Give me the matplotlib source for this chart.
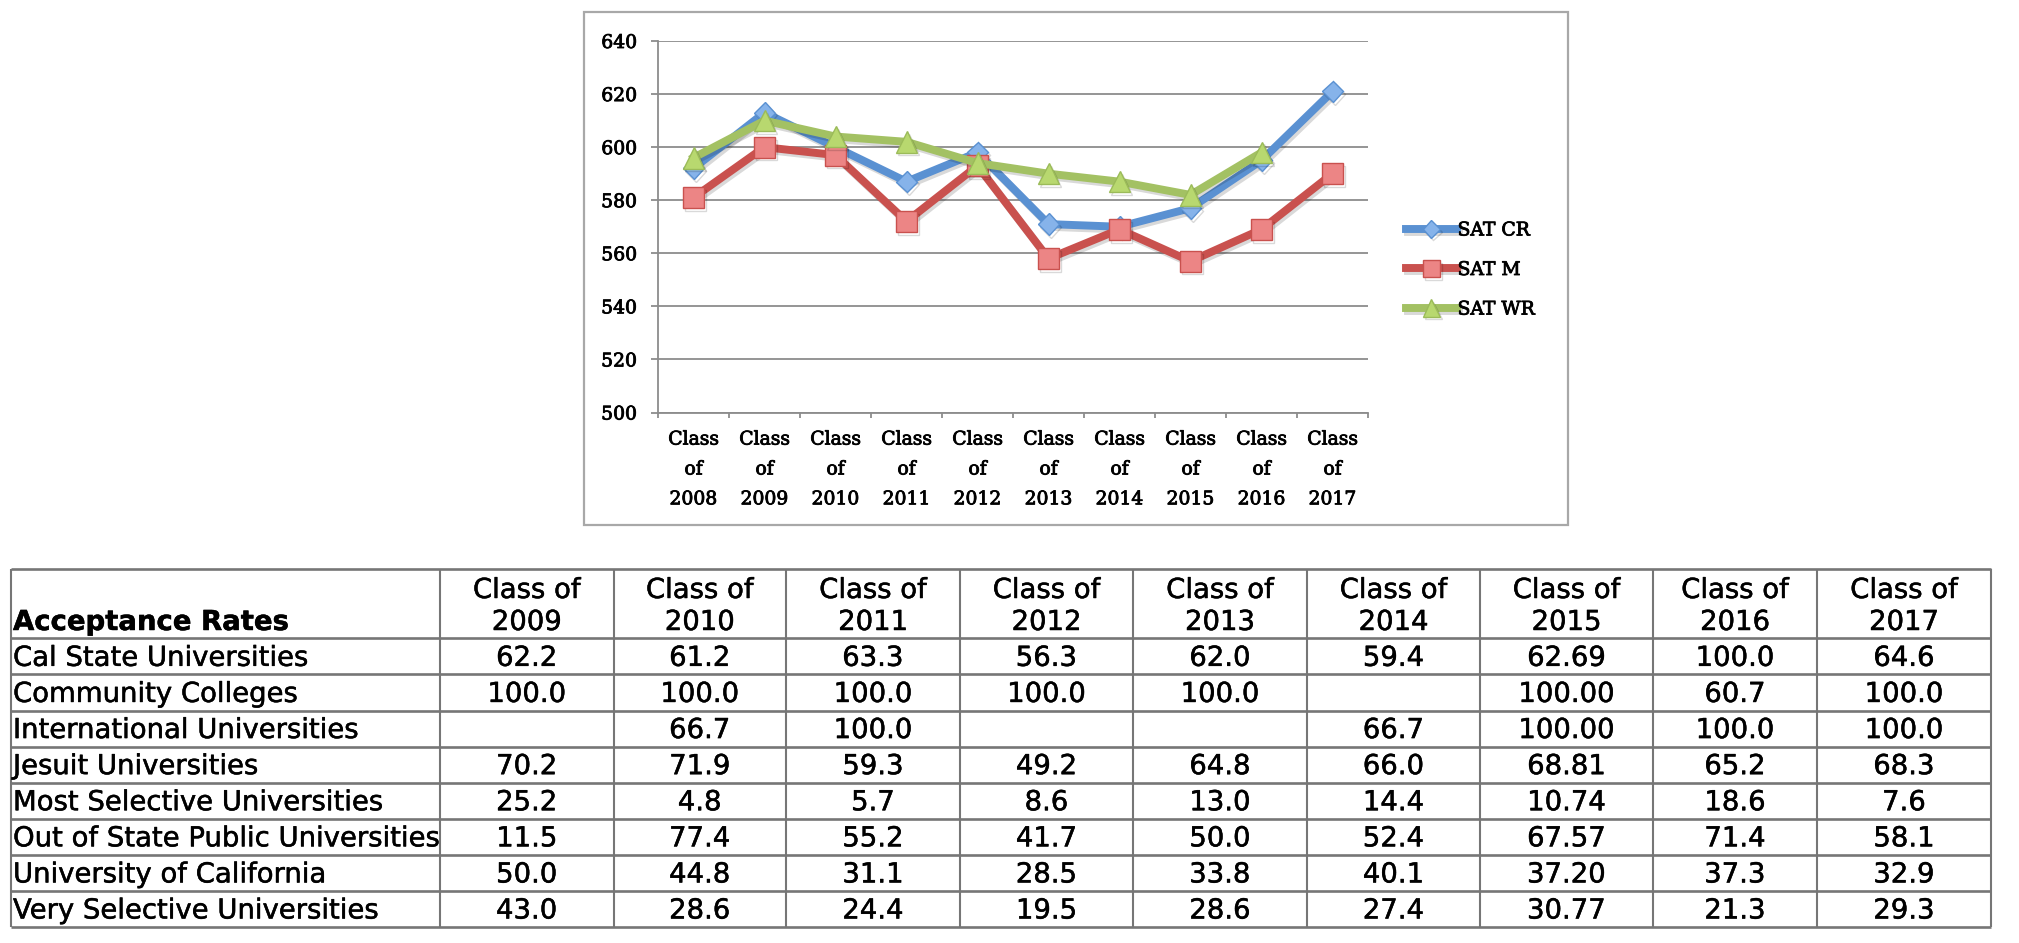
import matplotlib
matplotlib.use("Agg")
import matplotlib.pyplot as plt
import matplotlib.patheffects as pe
from matplotlib.patches import Rectangle
import numpy as np

W, H = 2019, 943

# ---- SAT chart data ----
classes = ["Class\nof\n2008", "Class\nof\n2009", "Class\nof\n2010", "Class\nof\n2011",
           "Class\nof\n2012", "Class\nof\n2013", "Class\nof\n2014", "Class\nof\n2015",
           "Class\nof\n2016", "Class\nof\n2017"]
sat_cr = [592, 613, 600, 587, 598, 571, 570, 577, 595, 621]
sat_m = [581, 600, 597, 572, 593, 558, 569, 557, 569, 590]
sat_wr = [596, 610, 604, 602, 594, 590, 587, 582, 598]   # no 2017 value

# ---- acceptance table data ----
years = [2009, 2010, 2011, 2012, 2013, 2014, 2015, 2016, 2017]
decimals = [1, 1, 1, 1, 1, 1, 2, 1, 1]
row_names = ["Cal State Universities", "Community Colleges", "International Universities",
             "Jesuit Universities", "Most Selective Universities",
             "Out of State Public Universities", "University of California",
             "Very Selective Universities"]
cal_state = [62.2, 61.2, 63.3, 56.3, 62.0, 59.4, 62.69, 100.0, 64.6]
community = [100.0, 100.0, 100.0, 100.0, 100.0, None, 100.00, 60.7, 100.0]
international = [None, 66.7, 100.0, None, None, 66.7, 100.00, 100.0, 100.0]
jesuit = [70.2, 71.9, 59.3, 49.2, 64.8, 66.0, 68.81, 65.2, 68.3]
most_selective = [25.2, 4.8, 5.7, 8.6, 13.0, 14.4, 10.74, 18.6, 7.6]
out_of_state = [11.5, 77.4, 55.2, 41.7, 50.0, 52.4, 67.57, 71.4, 58.1]
univ_california = [50.0, 44.8, 31.1, 28.5, 33.8, 40.1, 37.20, 37.3, 32.9]
very_selective = [43.0, 28.6, 24.4, 19.5, 28.6, 27.4, 30.77, 21.3, 29.3]
table_rows = [cal_state, community, international, jesuit, most_selective,
              out_of_state, univ_california, very_selective]

fig = plt.figure(figsize=(W / 100, H / 100), dpi=100)

# full-figure overlay in pixel coords for the table and the chart frame
tab = fig.add_axes([0, 0, 1, 1])
tab.set_xlim(0, W)
tab.set_ylim(H, 0)
tab.axis("off")

tab.add_patch(Rectangle((584, 12), 984, 513, fill=False, ec="#A8A8A8", lw=1.6))

col_edges = [11, 440, 613.5, 786, 960, 1133, 1307, 1480, 1653, 1817, 1991]
row_edges = [569, 638.3, 674.4, 710.5, 746.6, 782.7, 818.8, 854.9, 891.0, 927.0]
line_col = "#767676"
for y in row_edges:
    tab.plot([col_edges[0], col_edges[-1]], [y, y], color=line_col, lw=1.9,
             solid_capstyle="butt")
for x in col_edges:
    tab.plot([x, x], [row_edges[0], row_edges[-1]], color=line_col, lw=1.5,
             solid_capstyle="butt")

heavy_t = [pe.withStroke(linewidth=0.35, foreground="black")]
tfont = dict(family="DejaVu Sans", size=19.8, color="black", path_effects=heavy_t)
tab.text(13, 622, "Acceptance Rates", ha="left", va="center", fontweight="bold", **tfont)
for j, yr in enumerate(years):
    cx = (col_edges[j + 1] + col_edges[j + 2]) / 2
    tab.text(cx, 590, "Class of", ha="center", va="center", **tfont)
    tab.text(cx, 622, str(yr), ha="center", va="center", **tfont)

for i, (name, vals) in enumerate(zip(row_names, table_rows)):
    cy = (row_edges[i + 1] + row_edges[i + 2]) / 2 + 1.5
    tab.text(13, cy, name, ha="left", va="center", **tfont)
    for j, v in enumerate(vals):
        if v is None:
            continue
        cx = (col_edges[j + 1] + col_edges[j + 2]) / 2
        tab.text(cx, cy, f"{v:.{decimals[j]}f}", ha="center", va="center", **tfont)

# ---- line chart ----
ax = fig.add_axes([658 / W, 1 - 412.5 / H, 710 / W, 371.5 / H])
ax.patch.set_alpha(0)
x = np.arange(len(classes))
shadow = [pe.SimpleLineShadow(offset=(1.5, -2), shadow_color="k", alpha=0.15), pe.Normal()]

ax.plot(x, sat_cr, color="#5A91D2", lw=5.7, marker="D", ms=11, mfc="#86B3EA",
        mec="#5A91D2", mew=1, label="SAT CR", path_effects=shadow)
ax.plot(x, sat_m, color="#C9514E", lw=5.7, marker="s", ms=15, mfc="#EC8585",
        mec="#C9514E", mew=1, label="SAT M", path_effects=shadow)
ax.plot(x[:len(sat_wr)], sat_wr, color="#A3C163", lw=5.7, marker="^", ms=15.5, mfc="#B8D86F",
        mec="#9BBB59", mew=1, label="SAT WR", path_effects=shadow)

heavy_c = [pe.withStroke(linewidth=0.6, foreground="black")]
cfont = dict(family="DejaVu Serif", size=13.5)

grid_col = "#8C8C8C"
ax.set_ylim(500, 640)
ax.set_yticks(np.arange(500, 641, 20))
ax.set_xlim(-0.5, len(classes) - 0.5)
ax.set_xticks(np.arange(-0.5, len(classes)), labels=[])
ax.set_xticks(x, labels=classes, minor=True, linespacing=1.85,
              path_effects=heavy_c, **cfont)
ax.yaxis.grid(True, color=grid_col, lw=1.3)
ax.set_axisbelow(True)
for s in ["top", "right"]:
    ax.spines[s].set_visible(False)
for s in ["left", "bottom"]:
    ax.spines[s].set_color(grid_col)
    ax.spines[s].set_linewidth(1.3)

ax.tick_params(axis="x", which="major", length=3.6, color=grid_col, width=1.3)
ax.tick_params(axis="x", which="minor", length=0, pad=13)
ax.tick_params(axis="y", length=5, color=grid_col, width=1.3, pad=10)
for t in ax.get_yticklabels():
    t.set_fontfamily(cfont["family"])
    t.set_fontsize(cfont["size"])
    t.set_path_effects(heavy_c)

leg = ax.legend(loc="center left", bbox_to_anchor=(1406 / W, 1 - 270 / H),
                bbox_transform=fig.transFigure, frameon=False, handlelength=2.7,
                handletextpad=0.05, labelspacing=1.15, borderpad=0, borderaxespad=0,
                markerscale=0.8, prop=cfont)
for t in leg.get_texts():
    t.set_path_effects(heavy_c)

fig.savefig("out.png", dpi=100)
